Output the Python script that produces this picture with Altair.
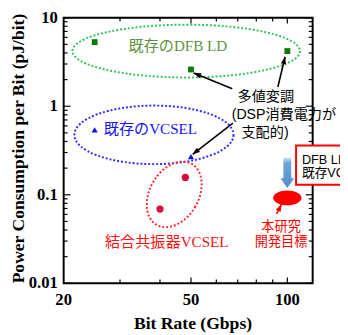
import altair as alt
import pandas as pd

# ---- data ----
dfb_rate = [25, 50, 100]
dfb_power = [5.3, 2.6, 4.2]
vcsel_rate = [25, 50]
vcsel_power = [0.54, 0.27]
ccv_rate = [40, 48]
ccv_power = [0.069, 0.157]
target_rate = [100]
target_power = [0.092]

x_tick_labels = [20, 50, 100]
y_tick_labels = [0.01, 0.1, 1, 10]
x_major_ticks = [50, 100]
x_minor_ticks = [30, 40, 60, 70, 80, 90]
y_major_ticks = [0.01, 0.1, 1, 10]
y_minor_ticks = [m * d for d in (0.01, 0.1, 1) for m in range(2, 10)]
x_title = "Bit Rate (Gbps)"
y_title = "Power Consumption per Bit (pJ/bit)"

# annotation anchors (data coordinates)
ell_names = ["dfb", "vcsel", "ccv"]
ell_x = [48.3, 38.3, 44.3]
ell_y = [4.2, 0.475, 0.101]

arrow_x = [67.3, 93.4, 67.6, 92.6]
arrow_y = [1.58, 1.65, 0.645, 0.0608]
arrow_x2 = [51.0, 98.4, 50.6, 95.9]
arrow_y2 = [2.37, 3.62, 0.286, 0.0784]
arrow_angle = [292, 13.4, 232, 26.6]
arrow_color = ["black", "black", "black", "#ff0000"]

W, H = 255, 272
SERIF = "Liberation Serif"
MIX = "Liberation Serif, Noto Sans CJK JP"
SANS = "Liberation Sans, Noto Sans CJK JP"

xs = alt.Scale(type="log", domain=[20, 120], nice=False)
ys = alt.Scale(type="log", domain=[0.01, 10], nice=False)


def ell(rx, ry):
    k = 0.5523
    return (f"M{rx},0 C{rx},{k*ry:.4f} {k*rx:.4f},{ry} 0,{ry} "
            f"C{-k*rx:.4f},{ry} {-rx},{k*ry:.4f} {-rx},0 "
            f"C{-rx},{-k*ry:.4f} {-k*rx:.4f},{-ry} 0,{-ry} "
            f"C{k*rx:.4f},{-ry} {rx},{-k*ry:.4f} {rx},0 Z")


X = lambda f="x": alt.X(f"{f}:Q", scale=xs, axis=None)
Y = lambda f="y": alt.Y(f"{f}:Q", scale=ys, axis=None)

layers = []

# inward ticks
ymaj = pd.DataFrame({"y": y_major_ticks})
ymin = pd.DataFrame({"y": y_minor_ticks})
xmaj = pd.DataFrame({"x": x_major_ticks})
xmin = pd.DataFrame({"x": x_minor_ticks})
tk = dict(color="black", strokeWidth=1.2)
for df, L in ((ymaj, 7), (ymin, 4)):
    layers.append(alt.Chart(df).mark_rule(**tk).encode(y=Y(), x=alt.value(0), x2=alt.value(L)))
    layers.append(alt.Chart(df).mark_rule(**tk).encode(y=Y(), x=alt.value(W - L), x2=alt.value(W)))
for df, L in ((xmaj, 6), (xmin, 4)):
    layers.append(alt.Chart(df).mark_rule(**tk).encode(x=X(), y=alt.value(H - L), y2=alt.value(H)))
    layers.append(alt.Chart(df).mark_rule(**tk).encode(x=X(), y=alt.value(0), y2=alt.value(L)))

# tick labels and axis titles (driven by the same scales)
lab = dict(font=SERIF, fontWeight="bold", fontSize=17, color="black")
layers.append(alt.Chart(pd.DataFrame({"y": y_tick_labels})).mark_text(
    align="right", baseline="middle", **lab).encode(
    y=Y(), x=alt.value(-6), text=alt.Text("y:Q", format="~g")))
layers.append(alt.Chart(pd.DataFrame({"x": x_tick_labels})).mark_text(
    align="center", baseline="middle", **lab).encode(
    x=X(), y=alt.value(H + 17), text=alt.Text("x:Q", format="~g")))
ttl = dict(font=SERIF, fontWeight="bold", fontSize=18, color="black")
layers.append(alt.Chart(pd.DataFrame({"t": [x_title]})).mark_text(
    align="center", baseline="middle", **ttl).encode(
    x=alt.value(W / 2 + 5), y=alt.value(H + 42), text="t:N"))
layers.append(alt.Chart(pd.DataFrame({"t": [y_title]})).mark_text(
    align="center", baseline="middle", angle=270, **ttl).encode(
    x=alt.value(-46), y=alt.value(H / 2 - 2), text="t:N"))

# dotted ellipses
ell_df = pd.DataFrame({"name": ell_names, "x": ell_x, "y": ell_y})
dot = dict(filled=False, opacity=1, strokeWidth=2, strokeDash=[2, 2])
layers.append(alt.Chart(ell_df[ell_df.name == "dfb"]).mark_point(
    shape=ell(1, 0.232), size=233 ** 2, stroke="#2fc35c", **dot).encode(x=X(), y=Y()))
layers.append(alt.Chart(ell_df[ell_df.name == "vcsel"]).mark_point(
    shape=ell(1, 0.368), size=163 ** 2, stroke="#2a2aff", **dot).encode(x=X(), y=Y()))
layers.append(alt.Chart(ell_df[ell_df.name == "ccv"]).mark_point(
    shape=ell(0.694, 1), size=72 ** 2, angle=30, stroke="#ff2a2a", **dot).encode(x=X(), y=Y()))

# data points
layers.append(alt.Chart(pd.DataFrame({"x": dfb_rate, "y": dfb_power})).mark_point(
    shape="square", filled=True, size=36, color="#0a7a0a", opacity=1).encode(x=X(), y=Y()))
layers.append(alt.Chart(pd.DataFrame({"x": vcsel_rate, "y": vcsel_power})).mark_point(
    shape="triangle-up", filled=True, size=40, color="#1010e8", opacity=1).encode(x=X(), y=Y()))
layers.append(alt.Chart(pd.DataFrame({"x": ccv_rate, "y": ccv_power})).mark_circle(
    size=55, color="#dc0c3c", opacity=1).encode(x=X(), y=Y()))
layers.append(alt.Chart(pd.DataFrame({"x": target_rate, "y": target_power})).mark_point(
    shape=ell(1, 0.52), size=29 ** 2, filled=True, color="#ff0000", opacity=1).encode(x=X(), y=Y()))

# blue block arrow (light gradient at the top)
block = "M-4,-15.5 L4,-15.5 L4,5.5 L7,5.5 L0,15.5 L-7,5.5 L-4,5.5 Z"
grad = alt.LinearGradient(
    gradient="linear", x1=0, y1=0, x2=0, y2=1,
    stops=[alt.GradientStop(color="#c9def2", offset=0),
           alt.GradientStop(color="#6ea5da", offset=0.18),
           alt.GradientStop(color="#4d8ccc", offset=1)])
layers.append(alt.Chart(pd.DataFrame({"x": [100], "y": [0.1766]})).mark_point(
    shape=block, size=4, filled=True, fill=grad, opacity=1, strokeWidth=0).encode(x=X(), y=Y()))

# arrows
arr = pd.DataFrame({"x": arrow_x, "y": arrow_y, "x2": arrow_x2, "y2": arrow_y2,
                    "angle": arrow_angle, "color": arrow_color})
layers.append(alt.Chart(arr).mark_rule(strokeWidth=1.6).encode(
    x=X(), y=Y(), x2="x2:Q", y2="y2:Q", color=alt.Color("color:N", scale=None)))
layers.append(alt.Chart(arr).mark_point(
    shape="M0,0 L0.55,1.5 L-0.55,1.5 Z", size=100, filled=True, opacity=1, strokeWidth=0).encode(
    x=X("x2"), y=Y("y2"), angle=alt.Angle("angle:Q", scale=None),
    color=alt.Color("color:N", scale=None)))

# labels
def label(text, x, y, color, font, size, align="center"):
    return alt.Chart(pd.DataFrame({"t": [text], "x": [x], "y": [y]})).mark_text(
        font=font, fontSize=size, color=color, align=align, baseline="middle").encode(
        x=X(), y=Y(), text="t:N")

layers.append(label("既存のDFB LD", 45.5, 4.79, "#5e9140", MIX, 15.5))
layers.append(label("既存のVCSEL", 26.7, 0.553, "#1414ff", MIX, 15.5, "left"))
layers.append(label("結合共振器VCSEL", 42, 0.0291, "#ff1010", MIX, 15.5))
layers.append(label("多値変調", 69.9, 1.28, "black", SANS, 14.5, "left"))
layers.append(label("(DSP消費電力が", 67.0, 0.80, "black", SANS, 14.5, "left"))
layers.append(label("支配的)", 71.9, 0.50, "black", SANS, 14.5, "left"))
layers.append(label("本研究", 95.6, 0.0437, "#ff0000", SANS, 13.5))
layers.append(label("開発目標", 95.6, 0.0291, "#ff0000", SANS, 13.5))

# red callout box
layers.append(alt.Chart(pd.DataFrame({"x": [106.5], "x2": [300], "y": [0.36], "y2": [0.130]})).mark_rect(
    fill="white", stroke="#ff0000", strokeWidth=2).encode(x=X(), x2="x2:Q", y=Y(), y2="y2:Q"))
layers.append(label("DFB LD・", 111.1, 0.2455, "black", SANS, 13, "left"))
layers.append(label("既存VCSEL", 111.1, 0.1766, "black", SANS, 13, "left"))

chart = alt.layer(*layers).properties(
    width=W, height=H,
    autosize=alt.AutoSizeParams(type="none"),
    padding={"left": 57, "top": 6, "right": 28, "bottom": 49},
).configure_view(stroke="black", strokeWidth=2)

chart.save("out.html", embed_options={"renderer": "svg", "actions": False})
